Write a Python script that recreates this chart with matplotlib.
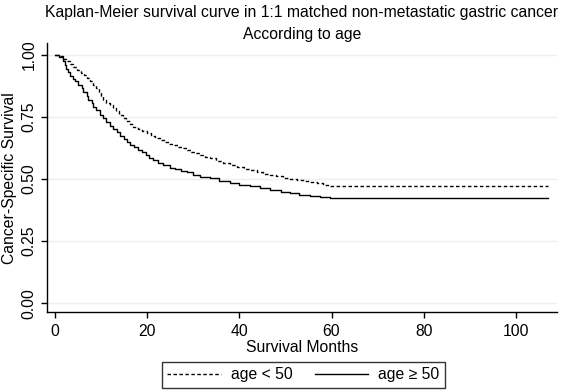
import matplotlib
matplotlib.use("Agg")
import matplotlib.pyplot as plt

plt.rcParams['font.family'] = ['Liberation Sans', 'DejaVu Sans']

# Kaplan-Meier estimates (months, survival)
months_young = [0, 0.8, 1.8, 2.5, 3.2, 4.0, 4.8, 5.6, 6.3, 6.9, 7.6, 8.3, 9.0, 9.5, 10.0,
                10.5, 11.2, 11.9, 12.6, 13.3, 14.0, 14.8, 15.5, 16.2, 17.0, 18.0, 19.0,
                19.9, 20.9, 21.8, 22.8, 23.8, 24.7, 25.7, 26.7, 27.6, 28.6, 29.6, 30.5,
                31.5, 32.5, 33.6, 35.0, 36.5, 38.0, 39.5, 41.0, 42.3, 43.8, 45.2, 46.6,
                48.0, 49.5, 51.0, 52.5, 54.0, 55.3, 56.8, 58.2, 59.7, 107]
surv_young = [1.0, 0.995, 0.985, 0.975, 0.963, 0.953, 0.94, 0.928, 0.918, 0.908, 0.895,
              0.88, 0.866, 0.85, 0.835, 0.82, 0.808, 0.797, 0.785, 0.772, 0.758, 0.745,
              0.733, 0.722, 0.71, 0.70, 0.692, 0.684, 0.675, 0.666, 0.657, 0.65, 0.643,
              0.637, 0.63, 0.623, 0.617, 0.61, 0.603, 0.597, 0.59, 0.583, 0.574, 0.565,
              0.556, 0.549, 0.542, 0.536, 0.529, 0.522, 0.516, 0.511, 0.505, 0.50, 0.496,
              0.492, 0.489, 0.483, 0.477, 0.472, 0.47]

months_old = [0, 1.0, 1.8, 2.2, 2.5, 2.9, 3.3, 4.0, 4.3, 5.1, 5.8, 6.1, 6.9, 7.2, 8.0,
              8.3, 9.0, 9.8, 10.5, 11.2, 11.9, 12.6, 13.4, 14.1, 15.0, 15.7, 16.3, 17.2,
              18.0, 18.8, 19.7, 20.5, 21.3, 22.3, 23.5, 24.9, 26.0, 27.3, 28.6, 30.0,
              31.5, 33.6, 35.5, 38.0, 40.0, 42.3, 44.5, 46.6, 49.0, 51.0, 53.0, 55.3,
              57.5, 59.7, 107]
surv_old = [1.0, 0.99, 0.975, 0.96, 0.945, 0.93, 0.917, 0.903, 0.895, 0.88, 0.865, 0.85,
            0.835, 0.82, 0.805, 0.792, 0.778, 0.758, 0.744, 0.73, 0.715, 0.70, 0.688,
            0.674, 0.66, 0.65, 0.638, 0.628, 0.618, 0.607, 0.597, 0.586, 0.575, 0.566,
            0.557, 0.546, 0.54, 0.534, 0.527, 0.518, 0.51, 0.503, 0.493, 0.483, 0.477,
            0.472, 0.464, 0.456, 0.448, 0.442, 0.436, 0.431, 0.426, 0.422, 0.422]

yticks = [0, 0.25, 0.5, 0.75, 1.0]
ytick_labels = ["0.00", "0.25", "0.50", "0.75", "1.00"]
xticks = [0, 20, 40, 60, 80, 100]

W, H = 565, 392
fs = 11.3
fig = plt.figure(figsize=(W / 100, H / 100), dpi=100)
ax = fig.add_axes([47 / W, 1 - 312 / H, (557 - 47) / W, (312 - 43) / H])

for y in yticks:
    ax.axhline(y, color="#eeeeee", lw=1, zorder=0)

l1, = ax.step(months_young, surv_young, where="post", color="black", lw=1,
              linestyle=(0, (2.5, 1.8)), label="age < 50")
l2, = ax.step(months_old, surv_old, where="post", color="black", lw=1,
              label="age \u2265 50")

ax.set_xlim(-1.7, 108.9)
ax.set_ylim(-0.036, 1.048)
ax.set_xticks(xticks)
ax.set_yticks(yticks)
ax.set_yticklabels(ytick_labels, rotation=90, va="center")
ax.tick_params(direction="out", length=4, width=1, labelsize=fs, color="black")
ax.tick_params(axis="x", pad=4.5)
ax.tick_params(axis="y", pad=3.5)
for s in ["top", "right"]:
    ax.spines[s].set_visible(False)
for s in ["left", "bottom"]:
    ax.spines[s].set_linewidth(1)

ax.set_xlabel("Survival Months", fontsize=fs, va="center")
ax.xaxis.set_label_coords(302 / W, 1 - 348 / H, transform=fig.transFigure)
ax.set_ylabel("Cancer-Specific Survival", fontsize=fs, va="center")
ax.yaxis.set_label_coords(10 / W, 1 - 178 / H, transform=fig.transFigure)

fig.text(302 / W, 1 - 12.5 / H, "Kaplan-Meier survival curve in 1:1 matched non-metastatic gastric cancer",
         ha="center", va="center", fontsize=fs)
fig.text(302 / W, 1 - 34 / H, "According to age", ha="center", va="center", fontsize=fs)

leg = fig.legend(handles=[l1, l2], loc="center", bbox_to_anchor=(303.5 / W, 1 - 375 / H),
                 ncol=2, frameon=True, fancybox=False, fontsize=fs, handlelength=3.4,
                 columnspacing=1.4, handletextpad=0.65, borderpad=0.35, borderaxespad=0)
leg.get_frame().set_edgecolor("black")
leg.get_frame().set_linewidth(1)

fig.savefig("out.png", dpi=100)
